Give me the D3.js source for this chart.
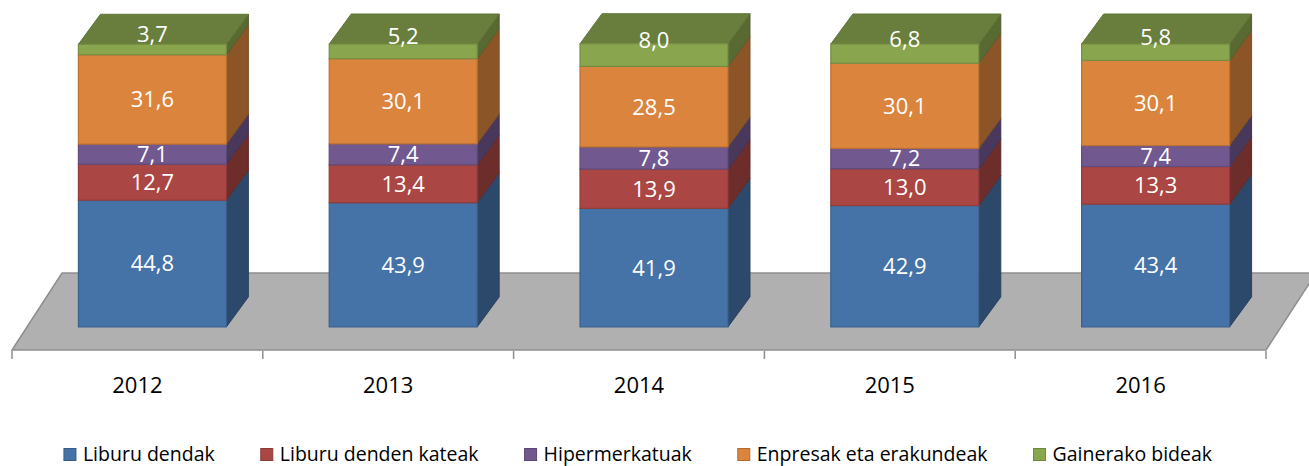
<!DOCTYPE html>
<html>
<head>
<meta charset="utf-8">
<script src="https://cdn.jsdelivr.net/npm/d3@7"></script>
<style>
	body { margin: 0; background: #fff; }
	svg { display: block; font-family: 'Open Sans', sans-serif; }
</style>
</head>
<body>
<svg id="chart" width="1309" height="466"></svg>
<script>
// Salmenta bideak, urteka (%).
var years = ['2012', '2013', '2014', '2015', '2016'];
var seriesNames = ['Liburu dendak', 'Liburu denden kateak', 'Hipermerkatuak',
	'Enpresak eta erakundeak', 'Gainerako bideak'];
var liburuDendak = [44.8, 43.9, 41.9, 42.9, 43.4];
var liburuDendenKateak = [12.7, 13.4, 13.9, 13.0, 13.3];
var hipermerkatuak = [7.1, 7.4, 7.8, 7.2, 7.4];
var enpresakEtaErakundeak = [31.6, 30.1, 28.5, 30.1, 30.1];
var gainerakoBideak = [3.7, 5.2, 8.0, 6.8, 5.8];
var seriesColors = ['#4572a7', '#aa4643', '#71588f', '#db843d', '#89a54e'];

var seriesValues = [liburuDendak, liburuDendenKateak, hipermerkatuak,
	enpresakEtaErakundeak, gainerakoBideak];

// Build one row per year for d3.stack.
var table = years.map(function(year, i) {
	var row = {year: year};
	seriesNames.forEach(function(name, s) {
		row[name] = seriesValues[s][i];
	});
	return row;
});
var stacked = d3.stack().keys(seriesNames)(table);

var svg = d3.select('#chart');

// The floor is drawn as an oblique 3D plane: its front edge sits on the category axis,
// the bars stand in the middle of its depth.
var floorFront = 350;
var floorDepth = {dx: 50, dy: 77};
var barFrontDepth = 0.3;
var barDepth = {dx: 22, dy: 30};

var x = d3.scaleBand()
	.domain(years)
	.range([12, 1266])
	.paddingInner(0.41)
	.paddingOuter(0.205);
var y = d3.scaleLinear()
	.domain([0, 100])
	.range([floorFront - floorDepth.dy * barFrontDepth, 44]);
var shiftX = floorDepth.dx * barFrontDepth;

var fmt = d3.formatLocale({decimal: ',', thousands: '.', grouping: [3], currency: ['', '']})
	.format('.1f');

// Floor.
var x0 = x.range()[0], x1 = x.range()[1];
svg.append('polygon')
	.attr('points', [
		[x0, floorFront], [x1, floorFront],
		[x1 + floorDepth.dx, floorFront - floorDepth.dy],
		[x0 + floorDepth.dx, floorFront - floorDepth.dy]
	].join(' '))
	.attr('fill', '#b0b0b0')
	.attr('stroke', '#8e8e8e')
	.attr('stroke-width', 1.5);

// Category ticks and labels.
var tickPositions = d3.range(years.length + 1).map(function(i) { return x0 + i * x.step(); });
svg.selectAll('.tick')
	.data(tickPositions)
	.enter().append('line')
	.attr('x1', function(d) { return d; })
	.attr('x2', function(d) { return d; })
	.attr('y1', floorFront + 1)
	.attr('y2', floorFront + 9)
	.attr('stroke', '#8e8e8e')
	.attr('stroke-width', 1.5);
svg.selectAll('.year-label')
	.data(years)
	.enter().append('text')
	.attr('x', function(d) { return x(d) + x.bandwidth() / 2; })
	.attr('y', 393)
	.attr('text-anchor', 'middle')
	.attr('font-size', 22)
	.attr('fill', '#000')
	.text(function(d) { return d; });

// Bars: front face, side face and, for the top segment, the top face.
var w = x.bandwidth();
stacked.forEach(function(layer, s) {
	var color = d3.color(seriesColors[s]);
	var sideColor = color.darker(1.25).formatHex();
	var edgeColor = color.darker(0.45).formatHex();
	var isTop = s === stacked.length - 1;
	var g = svg.append('g').attr('class', 'series-' + s);

	layer.forEach(function(d) {
		var left = x(d.data.year) + shiftX;
		var right = left + w;
		var top = y(d[1]);
		var bottom = y(d[0]);

		g.append('polygon')
			.attr('points', [
				[right, bottom], [right + barDepth.dx, bottom - barDepth.dy],
				[right + barDepth.dx, top - barDepth.dy], [right, top]
			].join(' '))
			.attr('fill', sideColor)
			.attr('stroke', d3.color(sideColor).darker(0.3).formatHex())
			.attr('stroke-width', 1);

		if (isTop) {
			g.append('polygon')
				.attr('points', [
					[left, top], [right, top],
					[right + barDepth.dx, top - barDepth.dy],
					[left + barDepth.dx, top - barDepth.dy]
				].join(' '))
				.attr('fill', color.darker(0.75).formatHex())
				.attr('stroke', color.darker(0.95).formatHex())
				.attr('stroke-width', 1);
		}

		g.append('rect')
			.attr('x', left)
			.attr('y', top)
			.attr('width', w)
			.attr('height', bottom - top)
			.attr('fill', color.formatHex())
			.attr('stroke', edgeColor)
			.attr('stroke-width', 1.2);
	});
});

// Data labels. The top segment's label is centred on its visible front and top faces.
stacked.forEach(function(layer, s) {
	var isTop = s === stacked.length - 1;
	svg.append('g').selectAll('text')
		.data(layer)
		.enter().append('text')
		.attr('x', function(d) { return x(d.data.year) + shiftX + w / 2; })
		.attr('y', function(d) {
			var top = y(d[1]) - (isTop ? barDepth.dy : 0);
			return (top + y(d[0])) / 2;
		})
		.attr('dy', '0.36em')
		.attr('text-anchor', 'middle')
		.attr('font-size', 22)
		.attr('fill', '#fff')
		.text(function(d) { return fmt(d[1] - d[0]); });
});

// Legend, centred under the chart.
var legend = svg.append('g').attr('class', 'legend');
var items = legend.selectAll('g')
	.data(seriesNames)
	.enter().append('g');
items.append('rect')
	.attr('width', 12)
	.attr('height', 12)
	.attr('y', -12.5)
	.attr('fill', function(d, i) { return seriesColors[i]; })
	.attr('stroke', function(d, i) { return d3.color(seriesColors[i]).darker(0.6).formatHex(); })
	.attr('stroke-width', 1);
items.append('text')
	.attr('x', 19)
	.attr('y', 0)
	.attr('font-size', 19.5)
	.attr('fill', '#000')
	.text(function(d) { return d; });

var gap = 46;
var cursor = 0;
items.each(function() {
	var itemWidth = 19 + d3.select(this).select('text').node().getComputedTextLength();
	d3.select(this).attr('transform', 'translate(' + cursor + ',0)');
	cursor += itemWidth + gap;
});
var legendWidth = cursor - gap;
legend.attr('transform', 'translate(' + (638 - legendWidth / 2) + ',461)');
</script>
</body>
</html>
